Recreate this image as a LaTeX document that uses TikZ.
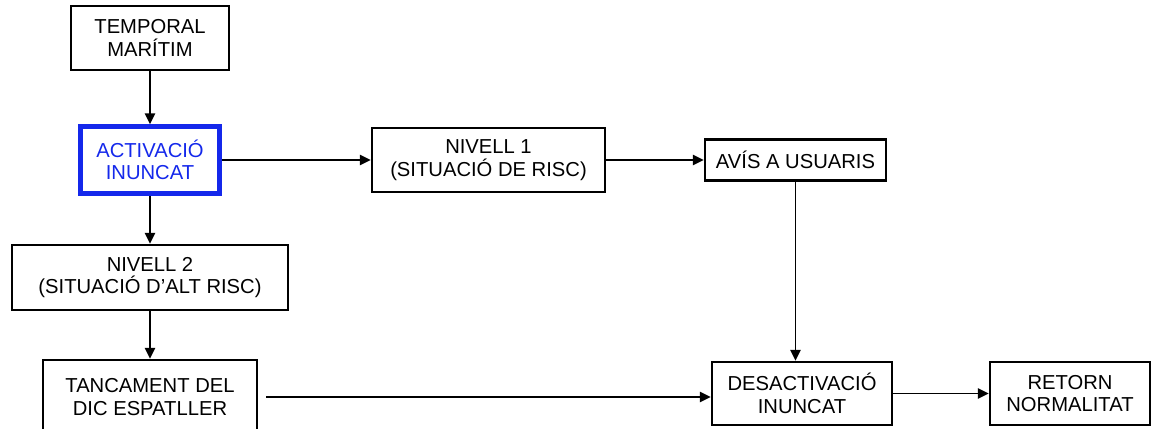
\documentclass[tikz,border=0pt]{standalone}
\usepackage{fontspec}
\setmainfont{Liberation Sans}
\usepackage{tikz}
\usetikzlibrary{arrows.meta}
\definecolor{inuncatblue}{RGB}{20,40,235}

\begin{document}
\begin{tikzpicture}[
  box/.style={draw, line width=1.4pt, align=center, inner sep=0pt,
    font=\fontsize{11.5}{12.8}\selectfont},
  fletxa/.style={line width=1.05pt, -{Triangle[length=6.2pt,width=5.8pt]}}]
\useasboundingbox (0,0) rectangle (23.12,8.58);
\clip (0,0) rectangle (23.12,8.58);

\node[box, minimum width=3.16cm, minimum height=1.28cm] (temporal) at (3.0,7.82) {TEMPORAL\\MAR\'ITIM};
\node[box, draw=inuncatblue, text=inuncatblue, line width=2.6pt, minimum width=2.78cm, minimum height=1.34cm] (activacio) at (3.0,5.38) {ACTIVACI\'O\\INUNCAT};
\node[box, minimum width=5.52cm, minimum height=1.30cm] (nivell2) at (3.0,3.03) {NIVELL 2\\(SITUACI\'O D'ALT RISC)};
\node[box, minimum width=4.28cm, minimum height=1.48cm] (tancament) at (3.0,0.64) {TANCAMENT DEL\\DIC ESPATLLER};
\node[box, minimum width=4.66cm, minimum height=1.28cm] (nivell1) at (9.77,5.38) {NIVELL 1\\(SITUACI\'O DE RISC)};
\node[box, minimum width=3.62cm, minimum height=0.82cm] (avis) at (15.91,5.38) {AV\'IS A USUARIS};
\node[box, minimum width=3.60cm, minimum height=1.26cm] (desactivacio) at (16.04,0.71) {DESACTIVACI\'O\\INUNCAT};
\node[box, minimum width=3.20cm, minimum height=1.26cm] (retorn) at (21.40,0.71) {RETORN\\NORMALITAT};

\draw[fletxa] (temporal) -- (activacio);
\draw[fletxa] (activacio) -- (nivell2);
\draw[fletxa] (nivell2) -- (tancament);
\draw[fletxa] (activacio) -- (nivell1);
\draw[fletxa] (nivell1) -- (avis);
\draw[fletxa] (avis.south) -- (avis.south |- desactivacio.north);
\draw[fletxa, shorten <=0.16cm] (tancament.east) -- (tancament.east -| desactivacio.west);
\draw[fletxa] (desactivacio) -- (retorn);
\end{tikzpicture}
\end{document}
